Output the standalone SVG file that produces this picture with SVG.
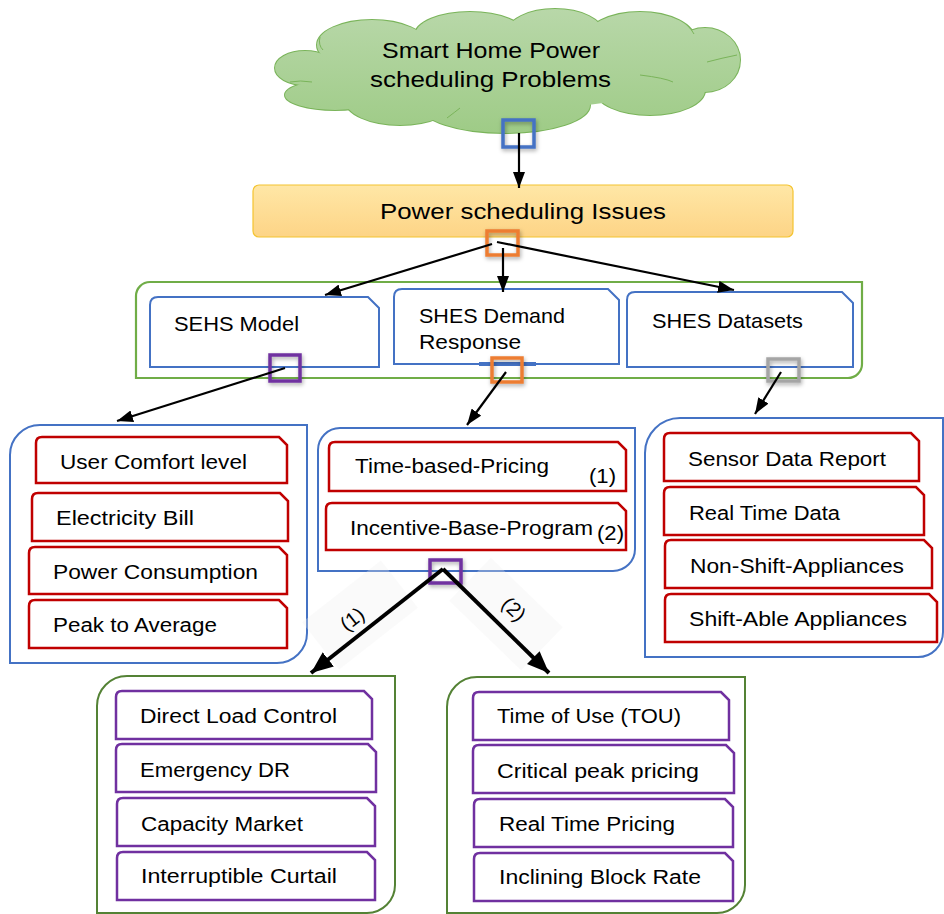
<svg xmlns="http://www.w3.org/2000/svg" width="944" height="914" viewBox="0 0 944 914">
<defs>
<linearGradient id="gCloud" gradientUnits="userSpaceOnUse" x1="0" y1="5" x2="0" y2="135">
<stop offset="0" stop-color="#b9d8aa"/><stop offset="1" stop-color="#9ecb86"/>
</linearGradient>
<linearGradient id="gBar" x1="0" y1="0" x2="0" y2="1">
<stop offset="0" stop-color="#ffe7a6"/><stop offset="1" stop-color="#fdd486"/>
</linearGradient>
<filter id="sh" x="-50%" y="-50%" width="200%" height="200%">
<feDropShadow dx="1" dy="2" stdDeviation="2" flood-color="#000" flood-opacity="0.35"/>
</filter>
<marker id="arr" viewBox="0 0 16 12" refX="16" refY="6" markerWidth="16" markerHeight="12" markerUnits="userSpaceOnUse" orient="auto">
<path d="M0,0 L16,6 L0,12 Z" fill="#000"/>
</marker>
<marker id="arrB" viewBox="0 0 22 18" refX="22" refY="9" markerWidth="22" markerHeight="18" markerUnits="userSpaceOnUse" orient="auto">
<path d="M0,0 L22,9 L0,18 Z" fill="#000"/>
</marker>
</defs>
<style>
text{font-family:"Liberation Sans",Arial,sans-serif;fill:#000}
.t22{font-size:22px}
.t21{font-size:21px}
.t20{font-size:20px}
.box{fill:#fff;stroke:#4472c4;stroke-width:2}
.red{fill:#fff;stroke:#c00000;stroke-width:2.5}
.pur{fill:#fff;stroke:#7030a0;stroke-width:2.5}
.pnlB{fill:#fff;stroke:#4472c4;stroke-width:2}
.pnlG{fill:#fff;stroke:#548235;stroke-width:2}
.sq{fill:none;stroke-width:3.5;filter:url(#sh)}
.ln{fill:none;stroke:#000;stroke-width:2.2;marker-end:url(#arr)}
.lnB{fill:none;stroke:#000;stroke-width:4;marker-end:url(#arrB)}
.lbg{fill:#eeeeee;opacity:0.3}
</style>

<g id="cloud">
<g fill="none" stroke="#7ab45a" stroke-width="2">
<ellipse cx="305" cy="68" rx="30" ry="17"/>
<ellipse cx="335" cy="95" rx="50" ry="15"/>
<ellipse cx="372" cy="45" rx="55" ry="25"/>
<ellipse cx="470" cy="35" rx="55" ry="23"/>
<ellipse cx="555" cy="33" rx="48" ry="24"/>
<ellipse cx="640" cy="40" rx="55" ry="28"/>
<ellipse cx="705" cy="60" rx="35" ry="32"/>
<ellipse cx="650" cy="90" rx="55" ry="25"/>
<ellipse cx="505" cy="105" rx="85" ry="28"/>
<ellipse cx="400" cy="100" rx="55" ry="25"/>
</g>
<g fill="url(#gCloud)">
<ellipse cx="305" cy="68" rx="30" ry="17"/>
<ellipse cx="335" cy="95" rx="50" ry="15"/>
<ellipse cx="372" cy="45" rx="55" ry="25"/>
<ellipse cx="470" cy="35" rx="55" ry="23"/>
<ellipse cx="555" cy="33" rx="48" ry="24"/>
<ellipse cx="640" cy="40" rx="55" ry="28"/>
<ellipse cx="705" cy="60" rx="35" ry="32"/>
<ellipse cx="650" cy="90" rx="55" ry="25"/>
<ellipse cx="505" cy="105" rx="85" ry="28"/>
<ellipse cx="400" cy="100" rx="55" ry="25"/>
<ellipse cx="500" cy="68" rx="185" ry="42"/>
</g>
<g fill="none" stroke="#7ab45a" stroke-width="1">
<path d="M320,37 Q318,45 323,50"/>
<path d="M687,25 Q692,30 694,34"/>
<path d="M707,62 Q722,58 737,55"/>
<path d="M640,75 Q665,78 673,82"/>
<path d="M447,118 Q455,112 460,108"/>
<path d="M290,82 Q300,80 312,82"/>
</g>
<text class="t22" x="382" y="58" textLength="218" lengthAdjust="spacingAndGlyphs">Smart Home Power</text>
<text class="t22" x="370" y="87" textLength="241" lengthAdjust="spacingAndGlyphs">scheduling Problems</text>
</g>

<g id="issues">
<rect x="253" y="185" width="540" height="52" rx="6" fill="url(#gBar)" stroke="#f4c430" stroke-width="1.2"/>
<text class="t22" x="380" y="219" textLength="286" lengthAdjust="spacingAndGlyphs">Power scheduling Issues</text>
</g>

<g id="container">
<path d="M150,282 H862 V364 A14,14 0 0 1 848,378 H136 V296 A14,14 0 0 1 150,282 Z" fill="none" stroke="#70ad47" stroke-width="2.2"/>
</g>

<g id="sehs-model">
<path class="box" d="M158,297 H368 L379,308 V367 H150 V305 Q150,297 158,297 Z"/>
<text class="t21" x="174" y="331" textLength="125" lengthAdjust="spacingAndGlyphs">SEHS Model</text>
</g>
<g id="shes-dr">
<path class="box" d="M402,289 H608 L619,300 V364 H394 V297 Q394,289 402,289 Z"/>
<line x1="479" y1="364" x2="536" y2="364" stroke="#4472c4" stroke-width="4"/>
<text class="t21" x="419" y="323" textLength="146" lengthAdjust="spacingAndGlyphs">SHES Demand</text>
<text class="t21" x="419" y="349" textLength="102" lengthAdjust="spacingAndGlyphs">Response</text>
</g>
<g id="shes-datasets">
<path class="box" d="M635,292 H842 L853,303 V367 H627 V300 Q627,292 635,292 Z"/>
<text class="t21" x="652" y="328" textLength="151" lengthAdjust="spacingAndGlyphs">SHES Datasets</text>
</g>

<g id="model-panel">
<path class="pnlB" d="M40,425 H307 V633 A30,30 0 0 1 277,663 H10 V455 A30,30 0 0 1 40,425 Z"/>
<path class="red" d="M42,437 H279 L287,445 V483 H36 V443 Q36,437 42,437 Z"/>
<text class="t20" x="60" y="469" textLength="187" lengthAdjust="spacingAndGlyphs">User Comfort level</text>
<path class="red" d="M38,493 H280 L288,501 V541 H32 V499 Q32,493 38,493 Z"/>
<text class="t20" x="56" y="525" textLength="138" lengthAdjust="spacingAndGlyphs">Electricity Bill</text>
<path class="red" d="M35,547 H279 L287,555 V594 H29 V553 Q29,547 35,547 Z"/>
<text class="t20" x="53" y="579" textLength="205" lengthAdjust="spacingAndGlyphs">Power Consumption</text>
<path class="red" d="M35,600 H279 L287,608 V648 H29 V606 Q29,600 35,600 Z"/>
<text class="t20" x="53" y="632" textLength="164" lengthAdjust="spacingAndGlyphs">Peak to Average</text>
</g>

<g id="dr-panel">
<path class="pnlB" d="M340,428 H635 V549 A22,22 0 0 1 613,571 H318 V450 A22,22 0 0 1 340,428 Z"/>
<path class="red" d="M335,442 H618 L626,450 V491 H329 V448 Q329,442 335,442 Z"/>
<text class="t20" x="355" y="473" textLength="194" lengthAdjust="spacingAndGlyphs">Time-based-Pricing</text>
<text class="t20" x="589" y="483" textLength="27" lengthAdjust="spacingAndGlyphs">(1)</text>
<path class="red" d="M332,503 H618 L626,511 V550 H326 V509 Q326,503 332,503 Z"/>
<text class="t20" x="350" y="535" textLength="243" lengthAdjust="spacingAndGlyphs">Incentive-Base-Program</text>
<text class="t20" x="597" y="540" textLength="27" lengthAdjust="spacingAndGlyphs">(2)</text>
</g>

<g id="datasets-panel">
<path class="pnlB" d="M680,418 H943 V632 A25,25 0 0 1 918,657 H645 V453 A35,35 0 0 1 680,418 Z"/>
<path class="red" d="M670,433 H911 L919,441 V481 H664 V439 Q664,433 670,433 Z"/>
<text class="t20" x="688" y="466" textLength="198" lengthAdjust="spacingAndGlyphs">Sensor Data Report</text>
<path class="red" d="M670,487 H916 L924,495 V535 H664 V493 Q664,487 670,487 Z"/>
<text class="t20" x="689" y="520" textLength="151" lengthAdjust="spacingAndGlyphs">Real Time Data</text>
<path class="red" d="M671,540 H924 L932,548 V588 H665 V546 Q665,540 671,540 Z"/>
<text class="t20" x="690" y="573" textLength="214" lengthAdjust="spacingAndGlyphs">Non-Shift-Appliances</text>
<path class="red" d="M671,594 H929 L937,602 V642 H665 V600 Q665,594 671,594 Z"/>
<text class="t20" x="689" y="626" textLength="218" lengthAdjust="spacingAndGlyphs">Shift-Able Appliances</text>
</g>

<g id="incentive-panel">
<path class="pnlG" d="M127,676 H395 V885 A28,28 0 0 1 367,913 H97 V706 A30,30 0 0 1 127,676 Z"/>
<path class="pur" d="M122,691 H364 L372,699 V739 H116 V697 Q116,691 122,691 Z"/>
<text class="t20" x="140" y="723" textLength="197" lengthAdjust="spacingAndGlyphs">Direct Load Control</text>
<path class="pur" d="M122,744 H368 L376,752 V792 H116 V750 Q116,744 122,744 Z"/>
<text class="t20" x="140" y="777" textLength="150" lengthAdjust="spacingAndGlyphs">Emergency DR</text>
<path class="pur" d="M123,798 H367 L375,806 V846 H117 V804 Q117,798 123,798 Z"/>
<text class="t20" x="141" y="831" textLength="162" lengthAdjust="spacingAndGlyphs">Capacity Market</text>
<path class="pur" d="M123,852 H367 L375,860 V900 H117 V858 Q117,852 123,852 Z"/>
<text class="t20" x="141" y="883" textLength="196" lengthAdjust="spacingAndGlyphs">Interruptible Curtail</text>
</g>

<g id="time-panel">
<path class="pnlG" d="M477,677 H745 V885 A28,28 0 0 1 717,913 H447 V707 A30,30 0 0 1 477,677 Z"/>
<path class="pur" d="M479,692 H721 L729,700 V740 H473 V698 Q473,692 479,692 Z"/>
<text class="t20" x="497" y="723" textLength="184" lengthAdjust="spacingAndGlyphs">Time of Use (TOU)</text>
<path class="pur" d="M479,745 H726 L734,753 V793 H473 V751 Q473,745 479,745 Z"/>
<text class="t20" x="497" y="778" textLength="202" lengthAdjust="spacingAndGlyphs">Critical peak pricing</text>
<path class="pur" d="M480,799 H725 L733,807 V847 H474 V805 Q474,799 480,799 Z"/>
<text class="t20" x="499" y="831" textLength="176" lengthAdjust="spacingAndGlyphs">Real Time Pricing</text>
<path class="pur" d="M480,853 H725 L733,861 V901 H474 V859 Q474,853 480,853 Z"/>
<text class="t20" x="499" y="884" textLength="202" lengthAdjust="spacingAndGlyphs">Inclining Block Rate</text>
</g>

<g id="ports">
<rect class="sq" x="503" y="120" width="31" height="27" stroke="#4472c4"/>
<rect class="sq" x="487" y="231" width="31" height="24" stroke="#ed7d31"/>
<rect class="sq" x="270" y="355" width="30" height="26" stroke="#7030a0" stroke-width="4"/>
<rect class="sq" x="492" y="358" width="30" height="24" stroke="#ed7d31"/>
<rect class="sq" x="768" y="359" width="31" height="22" stroke="#a5a5a5"/>
<rect class="sq" x="430" y="560" width="31" height="23" stroke="#7030a0" stroke-width="4"/>
</g>

<g id="connectors">
<rect class="lbg" x="-50" y="-30" width="100" height="60" transform="translate(360,615) rotate(-38)"/>
<rect class="lbg" x="-50" y="-30" width="100" height="60" transform="translate(506,614) rotate(44)"/>
<line class="ln" x1="519" y1="133" x2="519" y2="188"/>
<line class="ln" x1="492" y1="244" x2="325" y2="295"/>
<line class="ln" x1="503" y1="248" x2="503" y2="292"/>
<line class="ln" x1="497" y1="242" x2="734" y2="290"/>
<line class="ln" x1="285" y1="368" x2="117" y2="421"/>
<line class="ln" x1="506" y1="372" x2="467" y2="425"/>
<line class="ln" x1="781" y1="372" x2="755" y2="414"/>
<line class="lnB" x1="443" y1="569" x2="311" y2="673"/>
<line class="lnB" x1="443" y1="569" x2="549" y2="673"/>
<text class="t20" text-anchor="middle" transform="translate(352,619) rotate(-38)" y="7">(1)</text>
<text class="t20" text-anchor="middle" transform="translate(514,609) rotate(44)" y="7">(2)</text>
</g>
</svg>
